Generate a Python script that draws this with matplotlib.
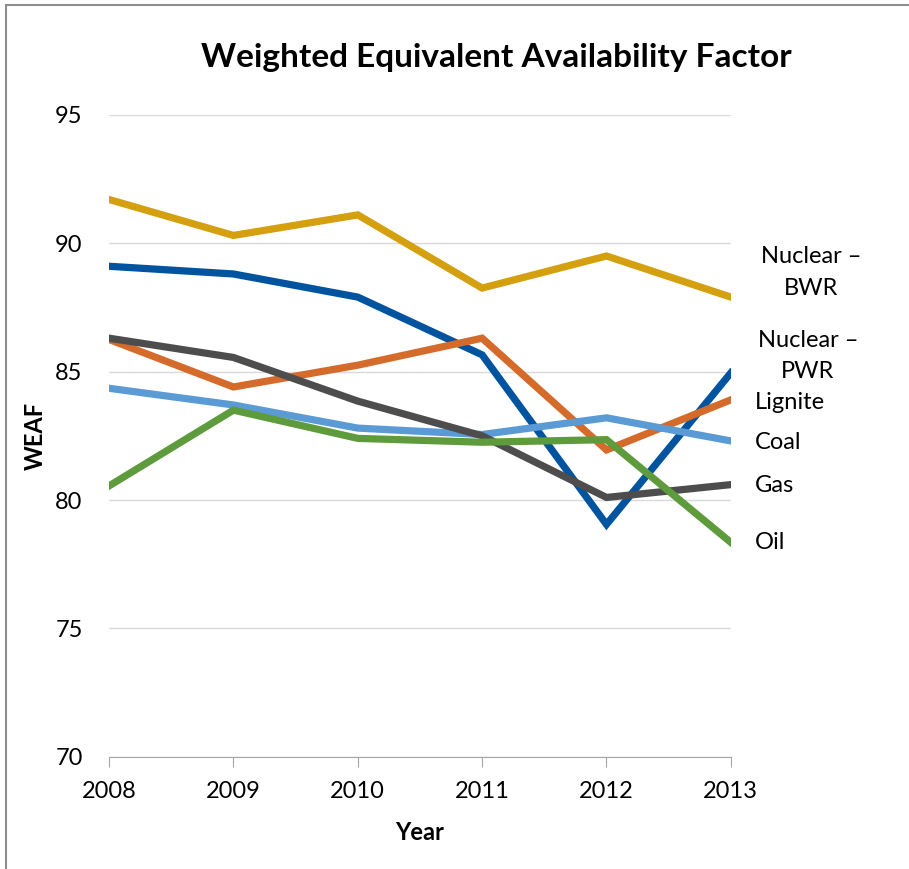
import matplotlib.pyplot as plt
from matplotlib.patches import Rectangle

years = [2008, 2009, 2010, 2011, 2012, 2013]
nuclear_bwr = [91.7, 90.3, 91.1, 88.25, 89.5, 87.9]
nuclear_pwr = [89.1, 88.8, 87.9, 85.65, 79.05, 84.95]
lignite = [86.25, 84.4, 85.25, 86.3, 81.95, 83.9]
coal = [84.35, 83.7, 82.8, 82.55, 83.2, 82.3]
gas = [86.3, 85.55, 83.85, 82.5, 80.1, 80.6]
oil = [80.55, 83.5, 82.4, 82.25, 82.35, 78.35]

series = [
    ('Nuclear –\nBWR', nuclear_bwr, '#D4A00F'),
    ('Nuclear –\nPWR', nuclear_pwr, '#00539E'),
    ('Lignite', lignite, '#D56B2A'),
    ('Coal', coal, '#5B9BD5'),
    ('Gas', gas, '#4D4D4D'),
    ('Oil', oil, '#5E9B3C'),
]
# label positions (data y, x offset in years, alignment)
label_pos = {
    'Nuclear –\nBWR': (88.85, 0.645, 'center'),
    'Nuclear –\nPWR': (85.6, 0.62, 'center'),
    'Lignite': (83.8, 0.19, 'left'),
    'Coal': (82.25, 0.19, 'left'),
    'Gas': (80.55, 0.19, 'left'),
    'Oil': (78.35, 0.19, 'left'),
}

plt.rcParams['font.family'] = ['Lato', 'DejaVu Sans']

fig = plt.figure(figsize=(9.09, 8.69), dpi=100)
ax = fig.add_axes([0.12, 0.129, 0.684, 0.739])

for name, vals, color in series:
    ax.plot(years, vals, color=color, lw=5.2, solid_joinstyle='miter', zorder=3)
    y, dx, ha = label_pos[name]
    ax.text(2013 + dx, y, name, fontsize=17, ha=ha, va='center',
            linespacing=1.62, clip_on=False)

ax.set_xlim(2008, 2013)
ax.set_ylim(70, 95)
ax.set_yticks([70, 75, 80, 85, 90, 95])
ax.set_xticks(years)
ax.grid(axis='y', color='#D9D9D9', lw=1)
ax.set_axisbelow(True)
for s in ['top', 'right', 'left']:
    ax.spines[s].set_visible(False)
ax.spines['bottom'].set_color('#A6A6A6')
ax.tick_params(axis='y', length=0, labelsize=17, pad=19)
ax.tick_params(axis='x', length=7, color='#A6A6A6', labelsize=17, pad=10)
ax.set_xlabel('Year', fontsize=17, fontweight='bold', labelpad=14)
ax.set_ylabel('WEAF', fontsize=17, fontweight='bold', labelpad=6)

fig.text(0.546, 0.934, 'Weighted Equivalent Availability Factor',
         fontsize=24, fontweight='bold', ha='center', va='center')

fig.patches.append(Rectangle((6 / 909, -0.1), 1.2, 1.1 - 5 / 869,
                             transform=fig.transFigure, fill=False,
                             edgecolor='#8C8C8C', lw=1.5))

fig.savefig('out.png', dpi=100)
